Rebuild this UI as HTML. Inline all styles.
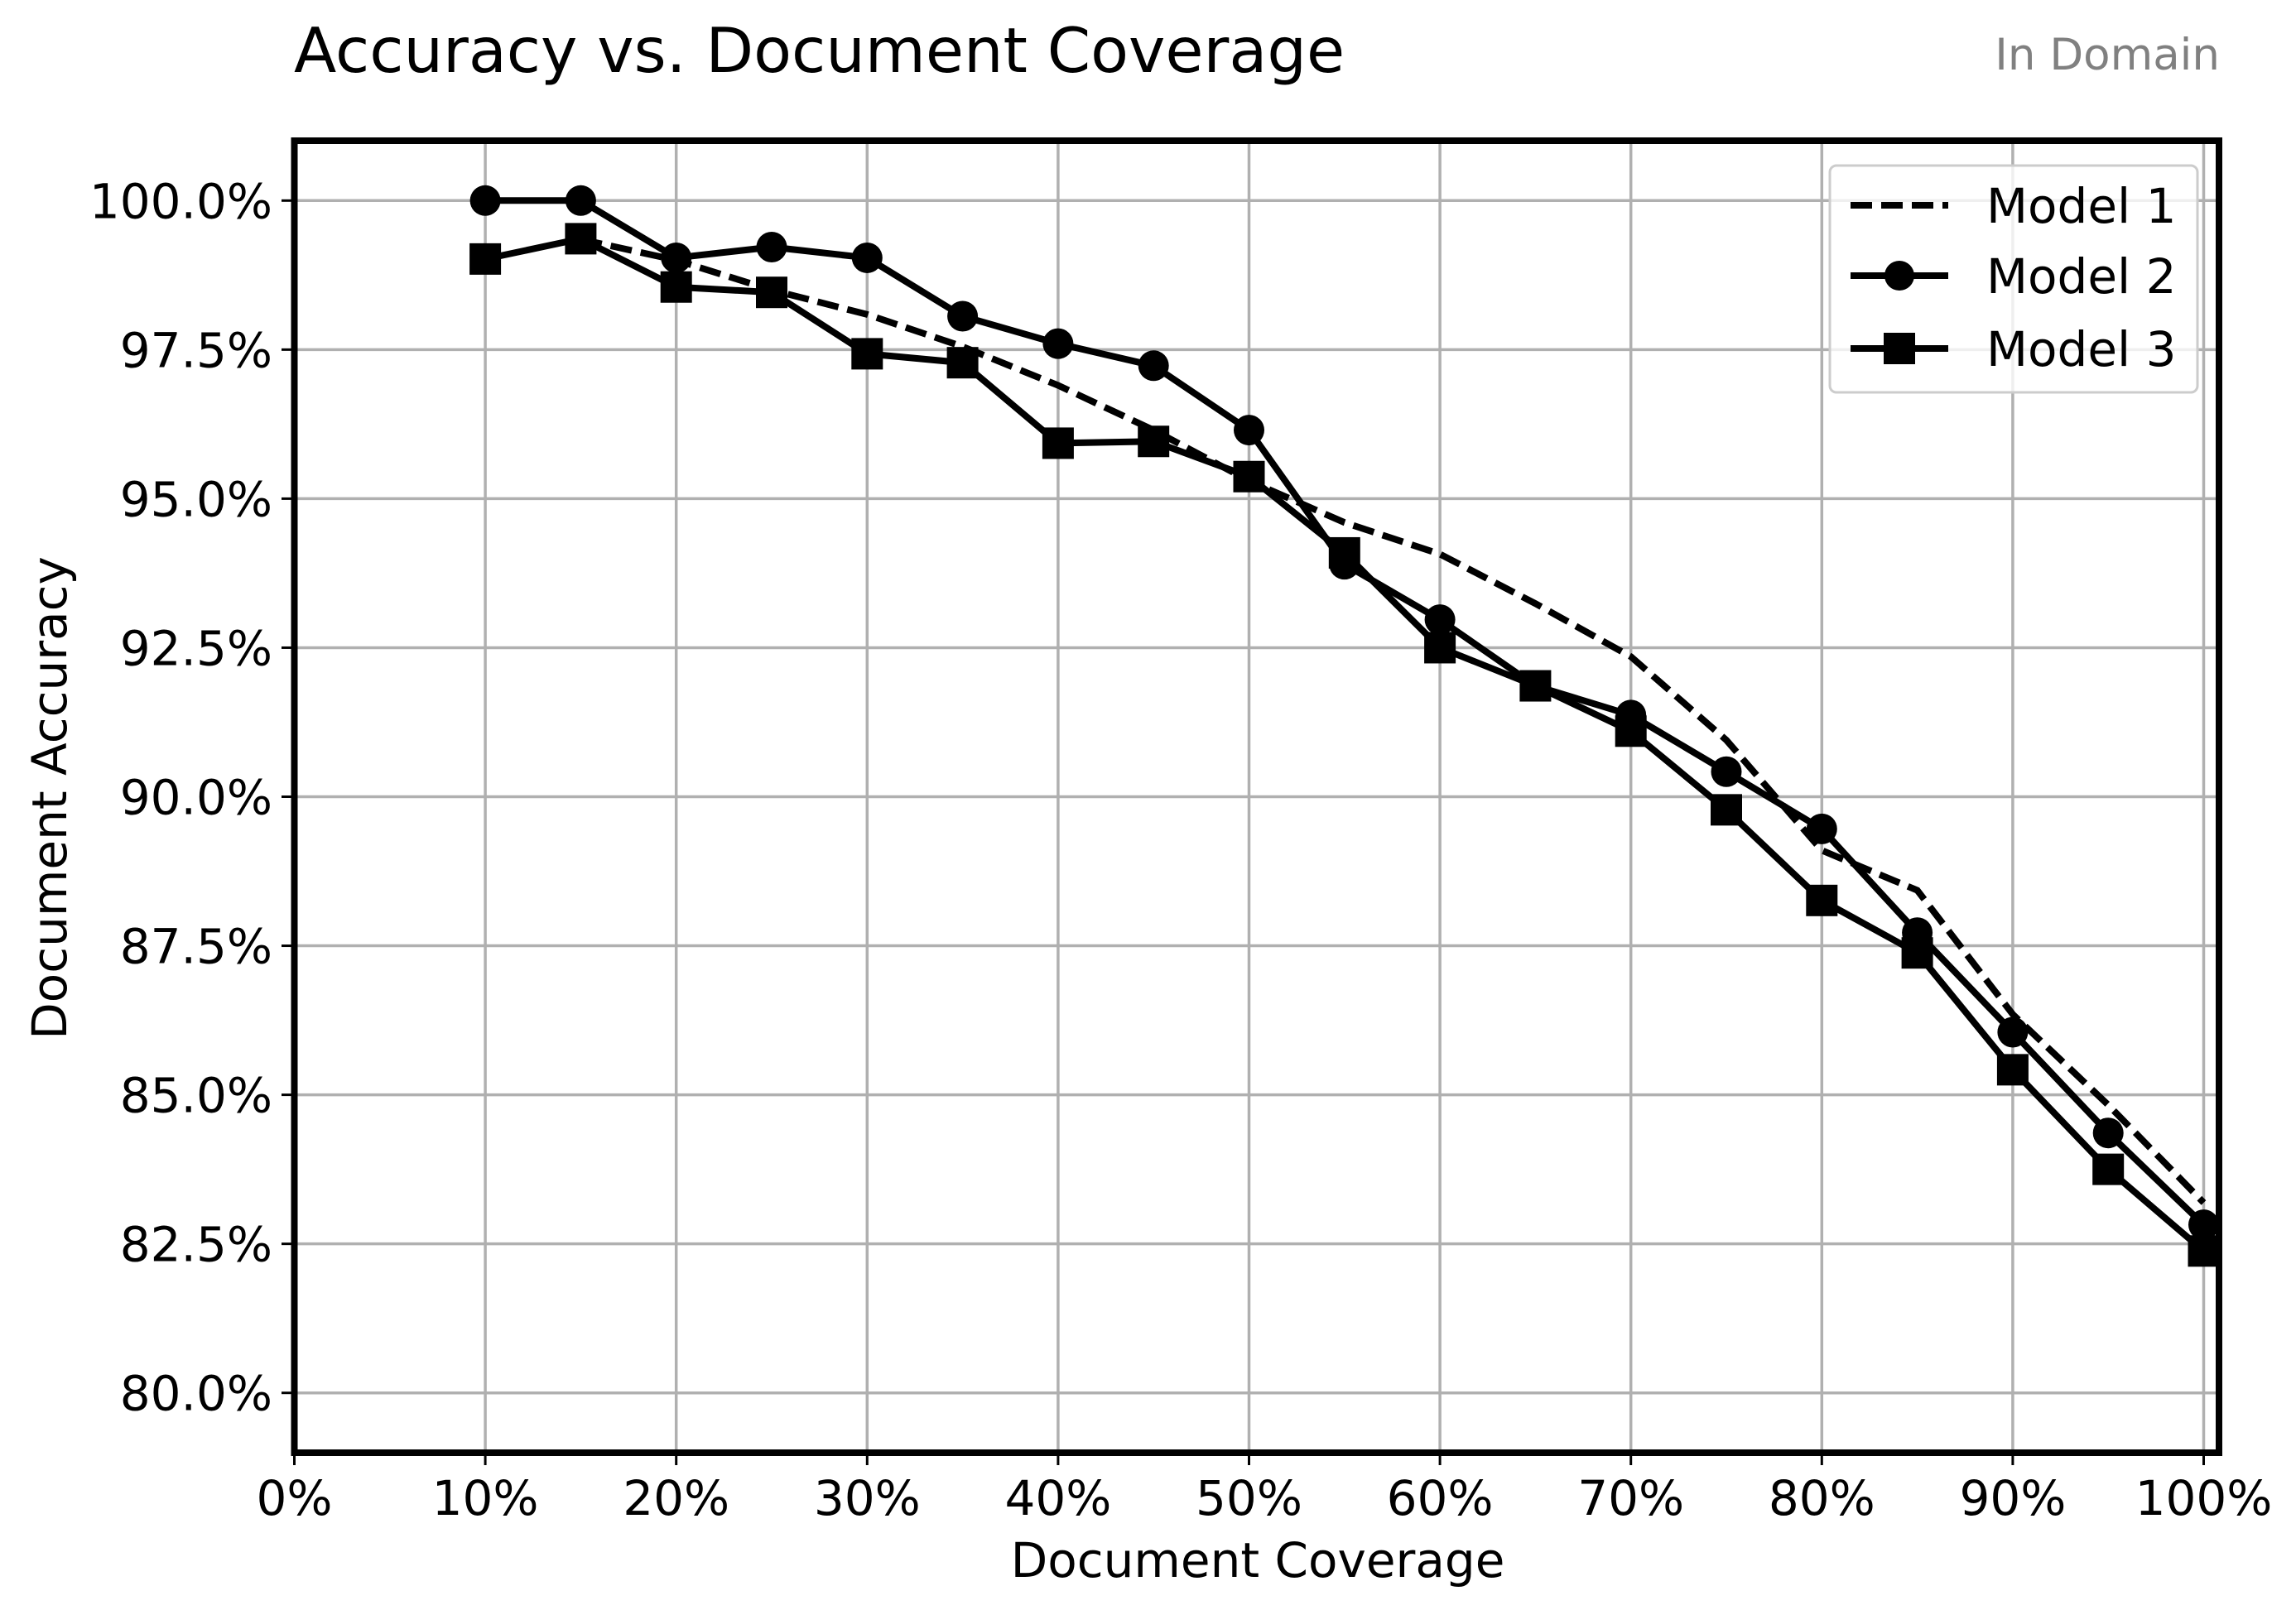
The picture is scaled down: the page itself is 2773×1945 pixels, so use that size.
<!DOCTYPE html>
<html><head><meta charset="utf-8"><style>html,body{margin:0;padding:0;background:#fff}svg{display:block}text{font-family:"DejaVu Sans","Liberation Sans",sans-serif}</style></head>
<body>
<svg id="chart" width="2773" height="1945" viewBox="0 0 2773 1945" xmlns="http://www.w3.org/2000/svg">
<text x="355" y="87" font-size="75">Accuracy vs. Document Coverage</text>
<text x="2681" y="84" font-size="53" fill="#808080" text-anchor="end">In Domain</text>
<g id="grid"></g>
<g id="series"></g>
<rect x="355.5" y="170" width="2324.5" height="1585" fill="none" stroke="#000" stroke-width="8"/>
<g id="ticks"></g>
<text x="1519" y="1905" font-size="58" text-anchor="middle">Document Coverage</text>
<text x="0" y="0" font-size="58" text-anchor="middle" transform="translate(80,964) rotate(-90)">Document Accuracy</text>
<g>
<rect x="2210" y="200" width="444" height="274" rx="8" fill="#fff" fill-opacity="0.8" stroke="#ccc" stroke-width="3"/>
<line x1="2235" y1="248" x2="2353" y2="248" stroke="#000" stroke-width="8" stroke-dasharray="26,11"/>
<text x="2399" y="269" font-size="58">Model 1</text>
<line x1="2235" y1="333" x2="2353" y2="333" stroke="#000" stroke-width="8"/>
<circle cx="2294" cy="333" r="18"/>
<text x="2399" y="354" font-size="58">Model 2</text>
<line x1="2235" y1="421" x2="2353" y2="421" stroke="#000" stroke-width="8"/>
<rect x="2275" y="402" width="38" height="38"/>
<text x="2399" y="442" font-size="58">Model 3</text>
</g>
</svg>
<script>
const xTicks=[0,10,20,30,40,50,60,70,80,90,100];
const yTicks=[80,82.5,85,87.5,90,92.5,95,97.5,100];
const m1X=[15,20,25,30,35,40,45,50,55,60,65,70,75,80,85,90,95,100];
const m1Y=[99.35,99.0,98.5,98.09,97.55,96.9,96.15,95.3,94.6,94.07,93.24,92.35,90.95,89.1,88.43,86.35,84.83,83.19];
const m2X=[10,15,20,25,30,35,40,45,50,55,60,65,70,75,80,85,90,95,100];
const m2Y=[100,100,99.04,99.22,99.04,98.06,97.6,97.23,96.15,93.9,92.97,91.86,91.37,90.42,89.46,87.72,86.05,84.36,82.82];
const m3X=[10,15,20,25,30,35,40,45,50,55,60,65,70,75,80,85,90,95,100];
const m3Y=[99.02,99.36,98.55,98.46,97.43,97.28,95.93,95.96,95.37,94.09,92.5,91.86,91.1,89.78,88.26,87.38,85.42,83.75,82.38];
const NS='http://www.w3.org/2000/svg';
function X(v){return 355.5+23.06*v;}
function Y(v){return 242.3+(100-v)*72.02;}
function mk(tag,attrs,parent){const e=document.createElementNS(NS,tag);for(const k in attrs)e.setAttribute(k,attrs[k]);parent.appendChild(e);return e;}
const grid=document.getElementById('grid'),ticks=document.getElementById('ticks'),series=document.getElementById('series');
xTicks.forEach(t=>{
 const g=mk('line',{x1:X(t),x2:X(t),y1:170,y2:1755,stroke:'#b0b0b0','stroke-width':3.5},grid);
 
 
 const tk=mk('line',{x1:X(t),x2:X(t),y1:1759,y2:1770,stroke:'#000','stroke-width':3},ticks);
 
 
 const tx=mk('text',{x:X(t),y:1830,'font-size':58,'text-anchor':'middle'},ticks);
 tx.textContent=t+'%';
 
 
});
yTicks.forEach(t=>{
 const g=mk('line',{x1:355.5,x2:2680,y1:Y(t),y2:Y(t),stroke:'#b0b0b0','stroke-width':3.5},grid);
 
 
 const tk=mk('line',{x1:340,x2:352,y1:Y(t),y2:Y(t),stroke:'#000','stroke-width':3},ticks);
 
 
 const tx=mk('text',{x:329,y:Y(t)+21,'font-size':58,'text-anchor':'end'},ticks);
 tx.textContent=t.toFixed(1)+'%';
 
 
});
function pts(xs,ys){return xs.map((x,i)=>X(x)+','+Y(ys[i])).join(' ');}
const l1=mk('polyline',{points:pts(m1X,m1Y),fill:'none',stroke:'#000','stroke-width':8,'stroke-dasharray':'26,11'},series);


const l2=mk('polyline',{points:pts(m2X,m2Y),fill:'none',stroke:'#000','stroke-width':8,'stroke-linejoin':'round'},series);


m2X.forEach((x,i)=>{
 const c=mk('circle',{cx:X(x),cy:Y(m2Y[i]),r:18.5},series);
 
 
});
const l3=mk('polyline',{points:pts(m3X,m3Y),fill:'none',stroke:'#000','stroke-width':8,'stroke-linejoin':'round'},series);


m3X.forEach((x,i)=>{
 const r=mk('rect',{x:X(x)-19,y:Y(m3Y[i])-19,width:38,height:38},series);
 
 
});
</script>
</body></html>
